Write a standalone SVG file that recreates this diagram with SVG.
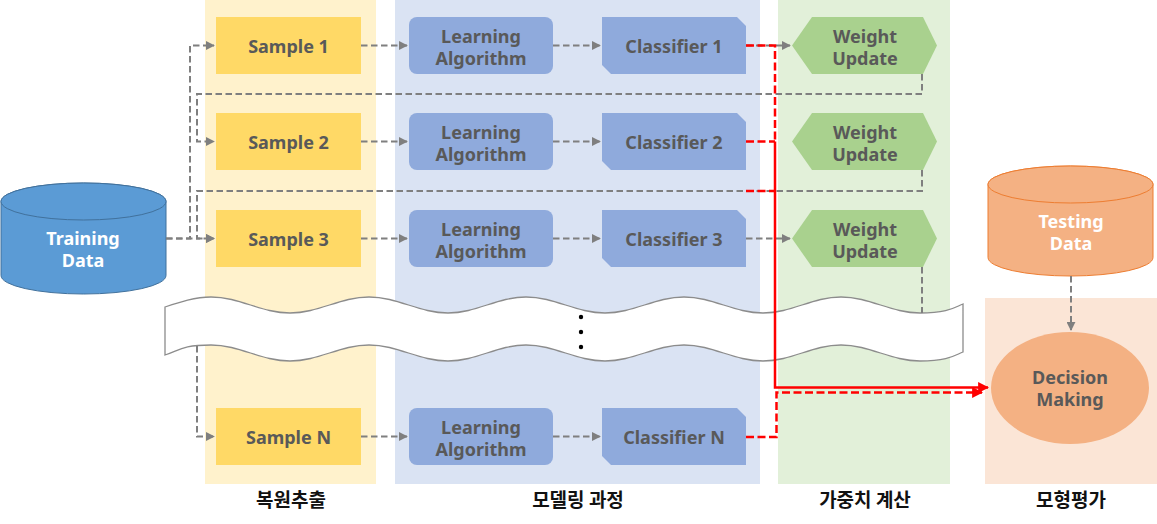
<svg xmlns="http://www.w3.org/2000/svg" width="1157" height="524" viewBox="0 0 1157 524">
<defs>
<marker id="ag" viewBox="0 0 10 10" refX="9" refY="5" markerWidth="4.5" markerHeight="4.5" orient="auto" markerUnits="strokeWidth"><path d="M0,0 L10,5 L0,10 z" fill="#7F7F7F"/></marker>
<marker id="ar" viewBox="0 0 10 10" refX="9" refY="5" markerWidth="4.4" markerHeight="4.4" orient="auto" markerUnits="strokeWidth"><path d="M0,0 L10,5 L0,10 z" fill="#FF0000"/></marker>
<style>
.t{font-family:"Noto Sans","Liberation Sans",sans-serif;font-weight:bold;font-size:18px;fill:#595959;text-anchor:middle}
.w{fill:#FFFFFF}
.band{font-family:"Noto Sans CJK KR","Noto Sans",sans-serif;font-weight:bold;font-size:19px;fill:#111111;text-anchor:middle}
.g{fill:none;stroke:#7F7F7F;stroke-width:2;stroke-dasharray:6.5 3.5}
.r{fill:none;stroke:#FF0000;stroke-width:2.5;stroke-dasharray:8 3.5}
.rs{fill:none;stroke:#FF0000;stroke-width:2.5}
.smp{fill:#FFD966}
.alg{fill:#8FAADC}
.wu{fill:#A9D18E}
</style>
</defs>
<g id="bands">
<rect x="205" y="0" width="171" height="484" fill="#FFF2CC"/>
<rect x="395" y="0" width="365" height="484" fill="#DAE3F3"/>
<rect x="778" y="0" width="172" height="484" fill="#E2F0D9"/>
<rect x="985" y="298" width="172" height="186" fill="#FBE5D6"/>
<text class="band" x="291" y="507">복원추출</text>
<text class="band" x="578" y="507">모델링 과정</text>
<text class="band" x="865" y="507">가중치 계산</text>
<text class="band" x="1071" y="507">모형평가</text>
</g>
<g id="break">
<path d="M165,307 C180,302 195,297 211,297 C240,297 261,313 290,313 S340,297 369,297 S419,313 448,313 S497,297 526,297 S576,313 605,313 S655,297 684,297 S734,313 763,313 S812,297 841,297 S891,313 920,313 S955,307 963,304 L963,352 C955,355 949,361 920,361 C891,361 870,345 841,345 S792,361 763,361 S713,345 684,345 S634,361 605,361 S555,345 526,345 S477,361 448,361 S398,345 369,345 S319,361 290,361 S240,345 211,345 S180,350 165,355 Z" fill="#FFFFFF" stroke="#8C8C8C" stroke-width="1.3"/>
<circle cx="581" cy="317" r="2.2" fill="#000"/>
<circle cx="581" cy="332" r="2.2" fill="#000"/>
<circle cx="581" cy="347" r="2.2" fill="#000"/>
</g>
<g id="training-data">
<path d="M1,201.5 A82.5,18.5 0 0 1 166,201.5 L166,275.5 A82.5,18.5 0 0 1 1,275.5 Z" fill="#5B9BD5" stroke="#41719C" stroke-width="1"/>
<ellipse cx="83.5" cy="201.5" rx="82.5" ry="18.5" fill="#5B9BD5" stroke="#41719C" stroke-width="1"/>
<text class="t w" x="83" y="245">Training</text>
<text class="t w" x="83" y="267">Data</text>
</g>
<g id="sample-1"><rect class="smp" x="216" y="17" width="145" height="57"/><text class="t" x="288.5" y="52.5">Sample 1</text></g>
<g id="sample-2"><rect class="smp" x="216" y="113" width="145" height="57"/><text class="t" x="288.5" y="148.5">Sample 2</text></g>
<g id="sample-3"><rect class="smp" x="216" y="210" width="145" height="57"/><text class="t" x="288.5" y="245.5">Sample 3</text></g>
<g id="sample-n"><rect class="smp" x="216" y="408" width="145" height="57"/><text class="t" x="288.5" y="443.5">Sample N</text></g>
<g id="learning-1"><rect class="alg" x="409" y="17" width="144" height="57" rx="8"/><text class="t" x="481" y="42.5">Learning</text><text class="t" x="481" y="64.5">Algorithm</text></g>
<g id="learning-2"><rect class="alg" x="409" y="113" width="144" height="57" rx="8"/><text class="t" x="481" y="138.5">Learning</text><text class="t" x="481" y="160.5">Algorithm</text></g>
<g id="learning-3"><rect class="alg" x="409" y="210" width="144" height="57" rx="8"/><text class="t" x="481" y="235.5">Learning</text><text class="t" x="481" y="257.5">Algorithm</text></g>
<g id="learning-n"><rect class="alg" x="409" y="408" width="144" height="57" rx="8"/><text class="t" x="481" y="433.5">Learning</text><text class="t" x="481" y="455.5">Algorithm</text></g>
<g id="classifier-1"><path class="alg" d="M602,17 L737,17 L746,26 L746,74 L611,74 L602,65 Z"/><text class="t" x="674" y="52.5">Classifier 1</text></g>
<g id="classifier-2"><path class="alg" d="M602,113 L737,113 L746,122 L746,170 L611,170 L602,161 Z"/><text class="t" x="674" y="148.5">Classifier 2</text></g>
<g id="classifier-3"><path class="alg" d="M602,210 L737,210 L746,219 L746,267 L611,267 L602,258 Z"/><text class="t" x="674" y="245.5">Classifier 3</text></g>
<g id="classifier-n"><path class="alg" d="M602,408 L737,408 L746,417 L746,465 L611,465 L602,456 Z"/><text class="t" x="674" y="443.5">Classifier N</text></g>
<g id="weight-1"><path class="wu" d="M792,45.5 L812,17 L923,17 L937,45.5 L923,74 L812,74 Z"/><text class="t" x="865" y="42.5">Weight</text><text class="t" x="865" y="64.5">Update</text></g>
<g id="weight-2"><path class="wu" d="M792,141.5 L812,113 L923,113 L937,141.5 L923,170 L812,170 Z"/><text class="t" x="865" y="138.5">Weight</text><text class="t" x="865" y="160.5">Update</text></g>
<g id="weight-3"><path class="wu" d="M792,238.5 L812,210 L923,210 L937,238.5 L923,267 L812,267 Z"/><text class="t" x="865" y="235.5">Weight</text><text class="t" x="865" y="257.5">Update</text></g>
<g id="testing-data">
<path d="M988,184.5 A82.5,18.5 0 0 1 1153,184.5 L1153,257.5 A82.5,18.5 0 0 1 988,257.5 Z" fill="#F4B183" stroke="#ED7D31" stroke-width="1"/>
<ellipse cx="1070.5" cy="184.5" rx="82.5" ry="18.5" fill="#F4B183" stroke="#ED7D31" stroke-width="1"/>
<text class="t w" x="1071" y="228">Testing</text>
<text class="t w" x="1071" y="250">Data</text>
</g>
<g id="decision-making">
<ellipse cx="1070" cy="388" rx="79" ry="56" fill="#F4B183"/>
<text class="t" x="1070" y="384">Decision</text>
<text class="t" x="1070" y="406">Making</text>
</g>
<g id="connectors">
<path class="g" d="M166,238.5 H190 V45.5 H214" marker-end="url(#ag)"/>
<path class="g" d="M166,238.5 H214" marker-end="url(#ag)"/>
<path class="g" d="M922,74 V94 H197 V141.5 H214" marker-end="url(#ag)"/>
<path class="g" d="M922,170 V191 H197 V238.5 H214" marker-end="url(#ag)"/>
<path class="g" d="M922,267 V313"/>
<path class="g" d="M197,346 V436.5 H214" marker-end="url(#ag)"/>
<path class="g" d="M361,45.5 H407" marker-end="url(#ag)"/>
<path class="g" d="M361,141.5 H407" marker-end="url(#ag)"/>
<path class="g" d="M361,238.5 H407" marker-end="url(#ag)"/>
<path class="g" d="M361,436.5 H407" marker-end="url(#ag)"/>
<path class="g" d="M553,45.5 H600" marker-end="url(#ag)"/>
<path class="g" d="M553,141.5 H600" marker-end="url(#ag)"/>
<path class="g" d="M553,238.5 H600" marker-end="url(#ag)"/>
<path class="g" d="M553,436.5 H600" marker-end="url(#ag)"/>
<path class="g" d="M746,45.5 H790" marker-end="url(#ag)"/>
<path class="g" d="M746,238.5 H790" marker-end="url(#ag)"/>
<path class="g" d="M1071,276 V330" marker-end="url(#ag)"/>
<path class="r" d="M746,45.5 H775 V142"/>
<path class="r" d="M746,141.5 H775"/>
<path class="r" d="M746,191 H775"/>
<path class="rs" d="M775,141.5 V387.5 H988" marker-end="url(#ar)"/>
<path class="r" d="M746,437 H776.5 V392.5 H982" marker-end="url(#ar)"/>
</g>
</svg>
